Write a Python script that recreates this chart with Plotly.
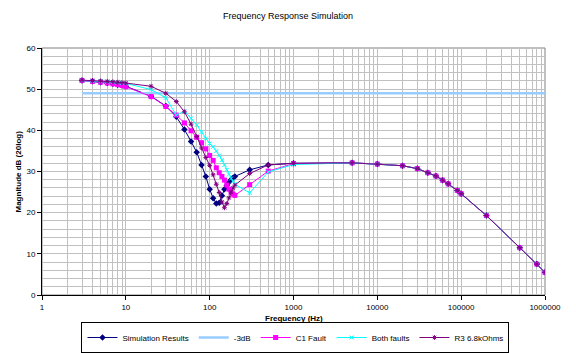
import plotly.graph_objects as go

freq = [3, 4, 5, 6, 7, 8, 9, 10, 20, 30, 40, 50, 60, 70, 80, 90, 100, 110, 120, 130,
        140, 150, 160, 170, 180, 190, 200, 300, 500, 1000, 5000, 10000, 20000, 30000,
        40000, 50000, 60000, 70000, 90000, 100000, 200000, 500000, 800000, 1000000]

tail = [32.1, 31.8, 31.4, 30.7, 29.7, 28.9, 27.9, 27.0, 25.4, 24.6, 19.3, 11.5, 7.5, 5.5]

sim_results = [52.1, 51.9, 51.7, 51.5, 51.3, 51.1, 50.9, 50.7, 48.3, 45.9, 43.3, 40.2, 37.3, 34.7,
               31.6, 28.8, 25.7, 23.5, 22.2, 22.4, 24.1, 25.7, 26.6, 27.4, 28.0, 28.5, 28.8,
               30.4, 31.6, 32.0] + tail

c1_fault = [52.1, 51.9, 51.7, 51.5, 51.3, 51.1, 50.9, 50.6, 48.2, 45.8, 43.7, 41.8, 39.9, 38.3,
            37.0, 35.5, 33.9, 32.7, 30.9, 29.7, 28.8, 27.9, 26.7, 25.7, 24.9, 24.5, 24.2,
            26.8, 30.1, 31.9] + tail

both_faults = [52.1, 52.0, 51.9, 51.8, 51.7, 51.6, 51.5, 51.4, 49.9, 47.9, 43.7, 44.7, 42.9, 41.3,
               39.6, 38.0, 36.8, 36.0, 35.0, 33.9, 32.8, 31.6, 30.4, 29.3, 28.3, 27.6, 26.9,
               24.8, 29.9, 31.7] + tail

r3_68k = [52.2, 52.1, 52.0, 51.9, 51.8, 51.7, 51.6, 51.5, 50.7, 49.0, 47.0, 44.5, 41.5, 38.5,
          35.7, 33.4, 31.5, 29.2, 26.9, 24.9, 22.6, 21.2, 22.2, 23.6, 25.0, 26.0, 26.7,
          29.5, 31.6, 32.0] + tail

db3_freq = [3, 1000000]
db3_vals = [49, 49]

x_tick_vals = [1, 10, 100, 1000, 10000, 100000, 1000000]
x_tick_text = ["1", "10", "100", "1000", "10000", "100000", "1000000"]

fig = go.Figure()
fig.add_trace(go.Scatter(x=freq, y=sim_results, name="Simulation Results", mode="lines+markers",
                         line=dict(color="#000080", width=1),
                         marker=dict(symbol="diamond", size=5, color="#000080")))
fig.add_trace(go.Scatter(x=db3_freq, y=db3_vals, name="-3dB", mode="lines",
                         line=dict(color="#99ccff", width=2.5)))
fig.add_trace(go.Scatter(x=freq, y=c1_fault, name="C1 Fault", mode="lines+markers",
                         line=dict(color="#ff00ff", width=1),
                         marker=dict(symbol="square", size=5, color="#ff00ff")))
fig.add_trace(go.Scatter(x=freq, y=both_faults, name="Both faults", mode="lines+markers",
                         line=dict(color="#00ffff", width=1),
                         marker=dict(symbol="x-thin", size=4, color="#00ffff",
                                     line=dict(color="#00ffff", width=1))))
fig.add_trace(go.Scatter(x=freq, y=r3_68k, name="R3 6.8kOhms", mode="lines+markers",
                         line=dict(color="#800080", width=1),
                         marker=dict(symbol="asterisk", size=4, color="#800080",
                                     line=dict(color="#800080", width=1))))

fig.update_layout(
    width=576, height=353,
    margin=dict(l=42, r=31, t=48, b=58, autoexpand=False),
    paper_bgcolor="white", plot_bgcolor="white",
    font=dict(family="Liberation Sans, Arial, sans-serif", size=8, color="black"),
    title=dict(text="Frequency Response Simulation", x=0.5, xref="container",
               y=0.955, yref="container", yanchor="middle",
               font=dict(size=9)),
    showlegend=True,
    legend=dict(orientation="h", x=0.513, xanchor="center", xref="container",
                y=0.0, yref="container", yanchor="bottom",
                bordercolor="black", borderwidth=1, font=dict(size=8),
                itemwidth=30, tracegroupgap=0),
)
fig.update_xaxes(type="log", range=[0, 6], tickvals=x_tick_vals, ticktext=x_tick_text,
                 showgrid=True, gridcolor="#c0c0c0", gridwidth=1,
                 minor=dict(showgrid=True, gridcolor="#c0c0c0", dtick="D1", ticks=""),
                 showline=True, linecolor="black", linewidth=1,
                 ticks="outside", ticklen=4, tickcolor="black",
                 zeroline=False)
fig.update_yaxes(range=[0, 60], dtick=10, showgrid=True, gridcolor="#c0c0c0", gridwidth=1,
                 minor=dict(showgrid=True, gridcolor="#c0c0c0", dtick=2, ticks=""),
                 showline=True, linecolor="black", linewidth=1,
                 ticks="outside", ticklen=4, tickcolor="black",
                 zeroline=False)
fig.add_annotation(text="<b>Frequency (Hz)</b>", xref="paper", yref="paper",
                   x=0.5, y=-0.097, xanchor="center", yanchor="middle",
                   showarrow=False, font=dict(size=8))
fig.add_annotation(text="<b>Magnitude dB (20log)</b>", xref="paper", yref="paper",
                   x=-0.0477, y=0.5, xanchor="center", yanchor="middle", textangle=-90,
                   showarrow=False, font=dict(size=8))
fig.add_shape(type="rect", xref="paper", yref="paper", x0=0, x1=1, y0=0, y1=1,
              line=dict(color="#808080", width=1), layer="below")

fig.write_html("out.html")
